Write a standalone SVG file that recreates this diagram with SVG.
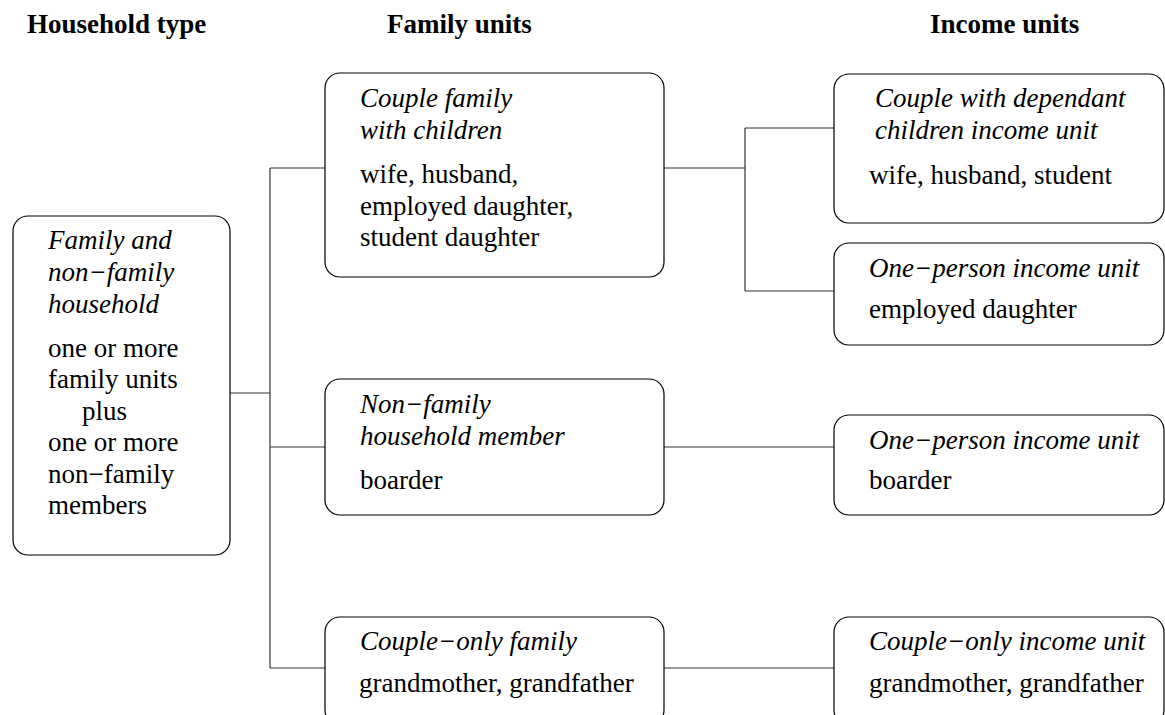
<svg xmlns="http://www.w3.org/2000/svg" width="1165" height="715" viewBox="0 0 1165 715">
<style>
.box{fill:#fff;stroke:#000;stroke-width:1.2}
.ln{stroke:#333;stroke-width:1.2;fill:none}
text{font-family:'Liberation Serif';font-size:27px;fill:#000}
.h{font-weight:bold}
.i{font-style:italic}
</style>
<rect width="1165" height="715" fill="#fff"/>
<g id="headers">
<text class="h" x="27" y="33">Household type</text>
<text class="h" x="387" y="33">Family units</text>
<text class="h" x="930" y="33">Income units</text>
</g>
<g id="connectors">
<path class="ln" d="M230 393H270M270 168V668M270 168H325M270 447H325M270 668H325"/>
<path class="ln" d="M664 168H745M745 128V291M745 128H834M745 291H834M664 447H834M664 668H834"/>
</g>
<g id="household">
<rect class="box" x="13" y="216" width="217" height="339" rx="15"/>
<text class="i" x="48" y="249">Family and</text>
<text class="i" x="48" y="281">non−family</text>
<text class="i" x="48" y="313">household</text>
<text x="48" y="357">one or more</text>
<text x="48" y="388">family units</text>
<text x="82" y="420">plus</text>
<text x="48" y="451">one or more</text>
<text x="48" y="483">non−family</text>
<text x="48" y="514">members</text>
</g>
<g id="couple-family">
<rect class="box" x="325" y="73" width="339" height="204" rx="15"/>
<text class="i" x="360" y="107">Couple family</text>
<text class="i" x="360" y="139">with children</text>
<text x="360" y="183">wife, husband,</text>
<text x="360" y="215">employed daughter,</text>
<text x="360" y="246">student daughter</text>
</g>
<g id="non-family">
<rect class="box" x="325" y="379" width="339" height="136" rx="15"/>
<text class="i" x="360" y="413">Non−family</text>
<text class="i" x="360" y="445">household member</text>
<text x="360" y="489">boarder</text>
</g>
<g id="couple-only-family">
<rect class="box" x="325" y="617" width="339" height="108" rx="15"/>
<text class="i" x="360" y="650">Couple−only family</text>
<text x="359" y="692">grandmother, grandfather</text>
</g>
<g id="couple-dependant">
<rect class="box" x="834" y="74" width="330" height="149" rx="15"/>
<text class="i" x="875" y="107">Couple with dependant</text>
<text class="i" x="875" y="139">children income unit</text>
<text x="869" y="184">wife, husband, student</text>
</g>
<g id="one-person-daughter">
<rect class="box" x="834" y="243" width="330" height="102" rx="15"/>
<text class="i" x="869" y="277">One−person income unit</text>
<text x="869" y="318">employed daughter</text>
</g>
<g id="one-person-boarder">
<rect class="box" x="834" y="415" width="330" height="100" rx="15"/>
<text class="i" x="869" y="449">One−person income unit</text>
<text x="869" y="489">boarder</text>
</g>
<g id="couple-only-income">
<rect class="box" x="834" y="617" width="330" height="108" rx="15"/>
<text class="i" x="869" y="650">Couple−only income unit</text>
<text x="869" y="692">grandmother, grandfather</text>
</g>
</svg>
